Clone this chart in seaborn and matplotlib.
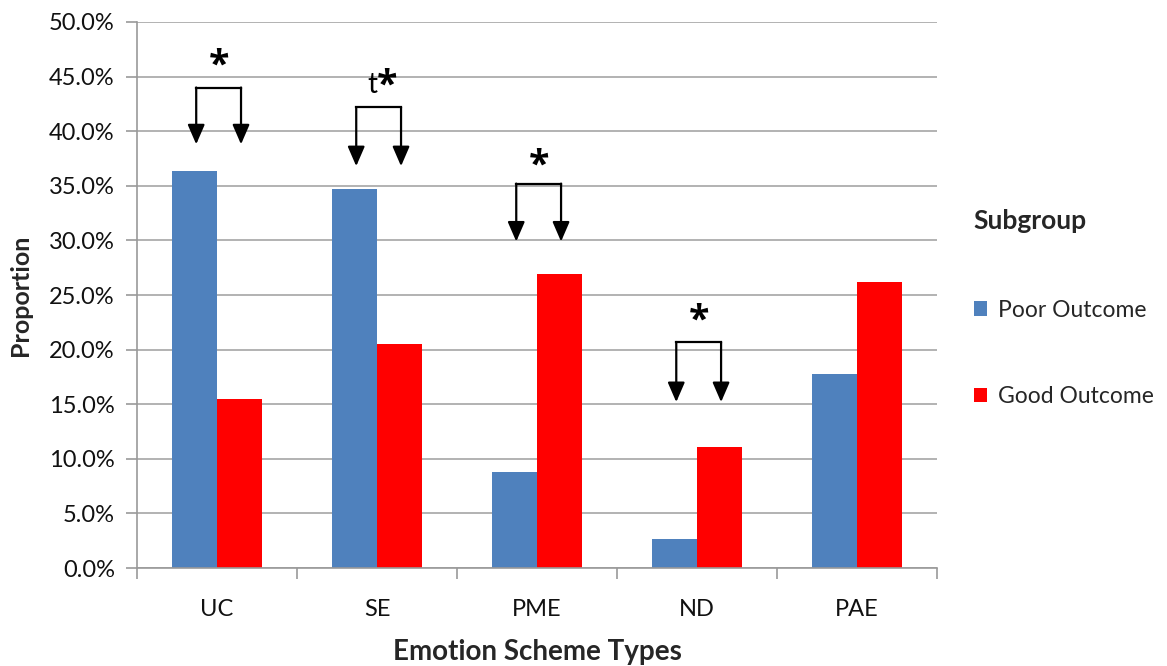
import matplotlib
matplotlib.use("Agg")
import matplotlib.pyplot as plt
from matplotlib.patches import Patch
from matplotlib.ticker import FuncFormatter, MultipleLocator
import seaborn as sns
import pandas as pd

categories = ["UC", "SE", "PME", "ND", "PAE"]
poor_outcome = [36.4, 34.7, 8.8, 2.7, 17.8]
good_outcome = [15.5, 20.5, 26.9, 11.1, 26.2]
groups = ["Poor Outcome", "Good Outcome"]
colors = ["#4F81BD", "#FF0000"]

# significance brackets: (category index, prefix, bracket top %, arrow tip %, star %)
brackets = [
    (0, "", 44.0, 38.8, 45.9),
    (1, "t", 42.2, 36.8, 44.1),
    (2, "", 35.2, 29.9, 36.8),
    (3, "", 20.7, 15.2, 22.6),
]

df = pd.DataFrame({
    "Emotion Scheme Types": categories * 2,
    "Proportion": poor_outcome + good_outcome,
    "Subgroup": [groups[0]] * len(categories) + [groups[1]] * len(categories),
})

sns.set_style("white")
plt.rcParams["font.family"] = ["Lato", "DejaVu Sans"]

fig = plt.figure(figsize=(11.67, 6.66), dpi=100)
ax = fig.add_axes([0.1174, 0.147, 0.6856, 0.82])

sns.barplot(data=df, x="Emotion Scheme Types", y="Proportion", hue="Subgroup",
            palette=colors, width=0.56, saturation=1, ax=ax, legend=False,
            linewidth=0)

ax.set_ylim(0, 50)
ax.set_xlim(-0.5, len(categories) - 0.5)
ax.yaxis.set_major_locator(MultipleLocator(5))
ax.yaxis.set_major_formatter(FuncFormatter(lambda v, _: f"{v:.1f}%"))
ax.grid(axis="y", color="#A6A6A6", lw=1.2)
ax.set_axisbelow(True)

for s in ["top", "right"]:
    ax.spines[s].set_visible(False)
for s in ["left", "bottom"]:
    ax.spines[s].set_color("#999999")
    ax.spines[s].set_linewidth(1.2)

ax.tick_params(axis="y", which="major", direction="out", length=8, width=1.2,
               color="#999999", left=True, labelsize=17, pad=8, labelcolor="#111111")
ax.tick_params(axis="x", which="major", length=0, labelsize=17, pad=22, labelcolor="#111111")
ax.set_xticks(range(len(categories)))
ax.set_xticks([i - 0.5 for i in range(len(categories) + 1)], minor=True)
ax.tick_params(axis="x", which="minor", direction="out", length=8, width=1.2,
               color="#999999", bottom=True)

ax.set_xlabel("Emotion Scheme Types", fontsize=20, fontweight="bold", labelpad=14)
ax.set_ylabel("Proportion", fontsize=18, fontweight="bold", labelpad=12)

bar_half = 0.28 / 2
for idx, prefix, top, tip, ylab in brackets:
    x1, x2 = idx - bar_half + 0.01, idx + bar_half + 0.01
    ax.plot([x1, x2], [top, top], color="black", lw=1.6, solid_capstyle="projecting")
    for x in (x1, x2):
        ax.annotate("", xy=(x, tip), xytext=(x, top),
                    arrowprops=dict(arrowstyle="-|>,head_length=0.6,head_width=0.26",
                                    mutation_scale=20, color="black", lw=1.6,
                                    shrinkA=0, shrinkB=0))
    star_x = idx + 0.01 + (0.05 if prefix else 0)
    ax.text(star_x, ylab, "*", ha="center", va="center", fontsize=27,
            fontweight="bold", color="black", family="Open Sans")
    if prefix:
        ax.text(star_x - 0.055, ylab + 0.1, prefix, ha="right", va="center",
                fontsize=20, color="black")

handles = [Patch(facecolor=c, edgecolor="none") for c in colors]
leg = ax.legend(handles, groups, title="Subgroup", loc="upper left",
                bbox_to_anchor=(1.02, 0.695), frameon=False, fontsize=16.5,
                handlelength=0.6, handleheight=0.6, handletextpad=0.45,
                labelspacing=2.85, alignment="left")
leg.get_title().set_fontweight("bold")
leg.get_title().set_fontsize(19)
leg._legend_box.sep = 48

fig.savefig("out.png", dpi=100)
